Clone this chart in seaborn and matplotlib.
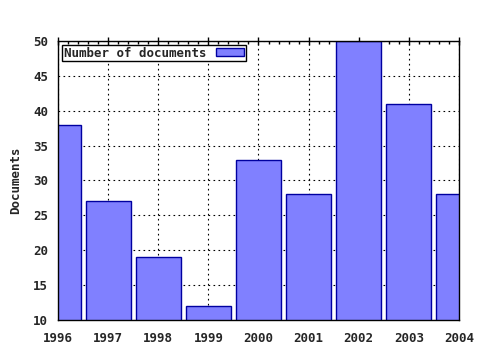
import matplotlib
matplotlib.use("Agg")
import matplotlib.pyplot as plt
import seaborn as sns
import pandas as pd
from matplotlib.ticker import MultipleLocator, FuncFormatter, NullFormatter

years = [1996, 1997, 1998, 1999, 2000, 2001, 2002, 2003, 2004]
documents = [38, 27, 19, 12, 33, 28, 50, 41, 28]

sns.set_style("white")
plt.rcParams['font.family'] = ['DejaVu Sans Mono', 'DejaVu Sans']
plt.rcParams['font.weight'] = 'bold'

df = pd.DataFrame({"year": years, "docs": documents})

fig = plt.figure(figsize=(4.8, 3.5), dpi=100)
ax = fig.add_axes([0.121, 0.086, 0.835, 0.797])

sns.barplot(data=df, x="year", y="docs", native_scale=True, width=0.9,
            color="#8080ff", saturation=1, edgecolor="#0000a0", linewidth=1,
            label="Number of documents", ax=ax, zorder=2)

ax.set_xlim(1996, 2004)
ax.set_ylim(10, 50)
ax.xaxis.set_major_locator(MultipleLocator(1))
ax.xaxis.set_minor_locator(MultipleLocator(0.2))
ax.yaxis.set_major_locator(MultipleLocator(5))
ax.xaxis.set_major_formatter(FuncFormatter(lambda v, p: f"{int(round(v))}"))
ax.grid(True, which="major", color="black", linestyle=(0, (1.5, 3)), linewidth=0.8, zorder=0)
ax.set_axisbelow(True)
ax.tick_params(which="both", direction="out", top=False, right=False, color="black")
ax.tick_params(axis="x", which="major", length=4, width=1, labelsize=9, pad=5)
ax.tick_params(axis="y", which="major", length=4, width=1, labelsize=9, pad=3)
ax.tick_params(which="minor", length=2.5, width=1)

top = ax.secondary_xaxis("top")
top.xaxis.set_major_locator(MultipleLocator(1))
top.xaxis.set_minor_locator(MultipleLocator(0.2))
top.xaxis.set_major_formatter(NullFormatter())
top.tick_params(which="major", direction="inout", length=6, width=1, color="black")
top.tick_params(which="minor", direction="in", length=2.5, width=1, color="black")
top.spines["top"].set_visible(False)

for s in ax.spines.values():
    s.set_color("black")
    s.set_linewidth(1)
ax.set_xlabel("")
ax.set_ylabel("Documents", fontsize=9, fontweight="bold", labelpad=8)
for lab in ax.get_xticklabels() + ax.get_yticklabels():
    lab.set_fontweight("bold")

leg = ax.legend(loc="upper left", markerfirst=False, frameon=True, fancybox=False,
                fontsize=9, borderpad=0.15, handlelength=2.2, handleheight=0.6,
                borderaxespad=0.3, edgecolor="black", framealpha=1)
leg.get_frame().set_linewidth(1)

fig.savefig("out.png", dpi=100)
